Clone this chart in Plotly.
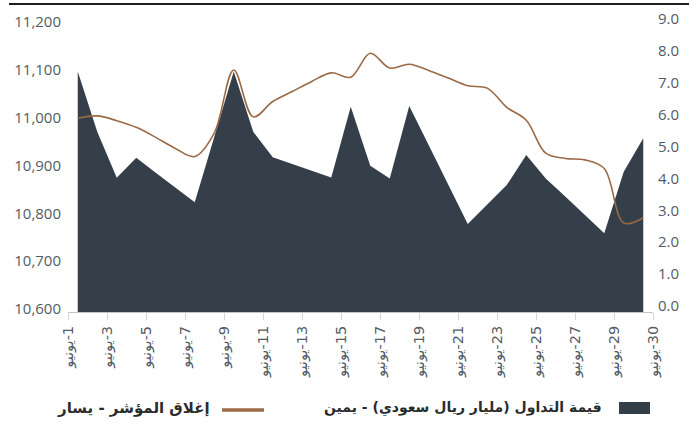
import plotly.graph_objects as go

days = list(range(1, 31))
tick_days = [1, 3, 5, 7, 9, 11, 13, 15, 17, 19, 21, 23, 25, 27, 29, 30]
month_name = "يونيو"

# Index close (left axis)
index_close = [11005, 11010, 11000, 10986, 10965, 10942, 10925, 10974, 11106, 11008,
               11040, 11061, 11082, 11100, 11091, 11141, 11110, 11118, 11105, 11089,
               11073, 11068, 11028, 11001, 10932, 10921, 10918, 10900, 10786, 10797]

# Traded value, SAR billion (right axis)
traded_value = [7.54, 5.65, 4.21, 4.84, 4.37, 3.91, 3.44, 5.49, 7.54, 5.65,
                4.85, 4.64, 4.43, 4.22, 6.44, 4.59, 4.19, 6.46, 5.23, 3.99,
                2.76, 3.37, 3.98, 4.92, 4.19, 3.62, 3.04, 2.47, 4.40, 5.45]

left_ticks = [10600, 10700, 10800, 10900, 11000, 11100, 11200]
right_ticks = [0, 1, 2, 3, 4, 5, 6, 7, 8, 9]

legend_area = "قيمة التداول (مليار ريال سعودي) - يمين"
legend_line = "إغلاق المؤشر - يسار"

AREA_COLOR = "#343f4a"
LINE_COLOR = "#9b6a44"
TXT = "#525c66"

W, H = 697, 427
ML, MR, MT, MB = 68, 44, 25, 115
PW = W - ML - MR
PH = H - MT - MB

def px_x(p):
    return (p - ML) / PW

def px_y(p):
    return (H - MB - p) / PH

fig = go.Figure()

fig.add_trace(go.Scatter(
    x=days, y=traded_value, yaxis="y", mode="lines",
    fill="tozeroy", fillcolor=AREA_COLOR, line=dict(width=0, color=AREA_COLOR),
    name=legend_area, showlegend=False, hoverinfo="skip"))

fig.add_trace(go.Scatter(
    x=days, y=index_close, yaxis="y2", mode="lines",
    line=dict(color=LINE_COLOR, width=1.6, shape="spline", smoothing=1.0),
    name=legend_line, showlegend=False, hoverinfo="skip"))

tick_pos = [d - 0.5 if d != 30 else 30.5 for d in tick_days]
tick_text = [month_name + "\u200e-" + str(d) for d in tick_days]

fig.update_layout(
    width=W, height=H,
    margin=dict(l=ML, r=MR, t=MT, b=MB, pad=0, autoexpand=False),
    paper_bgcolor="white", plot_bgcolor="white",
    font=dict(family="Open Sans, DejaVu Sans, sans-serif", color=TXT),
    xaxis=dict(
        range=[0.5, 30.5], tickmode="array", tickvals=tick_pos, ticktext=tick_text,
        tickangle=-90, ticks="outside", ticklen=7, tickcolor="#d6d6d6", tickwidth=1,
        showline=True, linecolor="#c4c4c4", linewidth=1.2, showgrid=False, zeroline=False,
        tickfont=dict(family="DejaVu Sans, sans-serif", size=14.5, color=TXT),
        automargin=False,
    ),
    yaxis=dict(
        side="right", range=[0, 9], tickmode="array", tickvals=right_ticks,
        ticktext=[f"{v:.1f}" for v in right_ticks],
        showgrid=False, zeroline=False, showline=False, ticks="",
        tickfont=dict(size=15, color=TXT), ticklabelstandoff=4, ticklabelshift=-6,
        automargin=False,
    ),
    yaxis2=dict(
        side="left", overlaying="y", range=[10600, 11200], tickmode="array",
        tickvals=left_ticks, ticktext=[f"{v:,}" for v in left_ticks],
        showgrid=False, zeroline=False, showline=False, ticks="",
        tickfont=dict(size=15, color=TXT), ticklabelstandoff=6, ticklabelshift=-3,
        automargin=False,
    ),
    showlegend=False,
)

# top rule
fig.add_shape(type="line", xref="paper", yref="paper",
              x0=px_x(9), x1=px_x(689), y0=px_y(4), y1=px_y(4),
              line=dict(color="#1e1e1e", width=2))

# custom right-to-left legend
fig.add_shape(type="rect", xref="paper", yref="paper",
              x0=px_x(619), x1=px_x(650), y0=px_y(414), y1=px_y(402),
              fillcolor=AREA_COLOR, line=dict(width=0))
fig.add_annotation(xref="paper", yref="paper", x=px_x(604), y=px_y(408),
                   xanchor="right", yanchor="middle", showarrow=False,
                   text="<b>" + legend_area + "</b>",
                   font=dict(family="DejaVu Sans, sans-serif", size=14, color="#2b2b2b"))
fig.add_shape(type="line", xref="paper", yref="paper",
              x0=px_x(222), x1=px_x(264), y0=px_y(410), y1=px_y(410),
              line=dict(color=LINE_COLOR, width=3.5))
fig.add_annotation(xref="paper", yref="paper", x=px_x(212), y=px_y(408),
                   xanchor="right", yanchor="middle", showarrow=False,
                   text="<b>" + legend_line + "</b>",
                   font=dict(family="DejaVu Sans, sans-serif", size=15, color="#2b2b2b"))

fig.write_html("out.html", config={"displayModeBar": False},
               post_script="document.body.style.margin='0px';")
